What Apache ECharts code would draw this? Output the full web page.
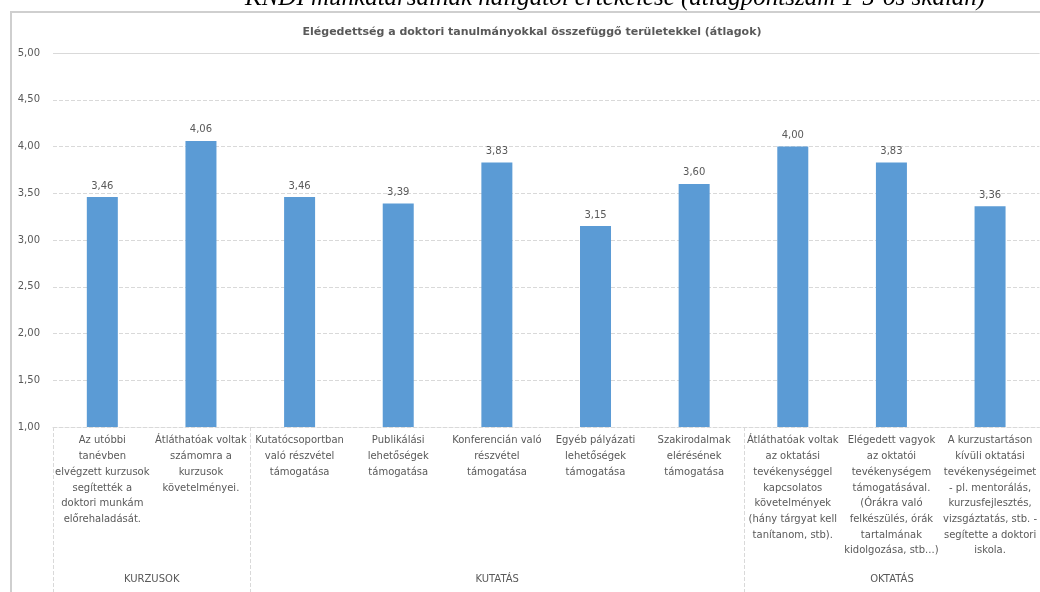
<!DOCTYPE html>
<html>
<head>
<meta charset="utf-8">
<script src="https://cdn.jsdelivr.net/npm/echarts@6/dist/echarts.min.js"></script>
<style>
html,body{margin:0;padding:0;background:#fff;}
#c{width:1040px;height:592px;}
</style>
</head>
<body>
<div id="c"></div>
<script>
const headerText = 'KNDI munkatársainak hallgatói értékelése (átlagpontszám 1-5-ös skálán)';
const titleText = 'Elégedettség a doktori tanulmányokkal összefüggő területekkel (átlagok)';
const categories = [
  'Az utóbbi\ntanévben\nelvégzett kurzusok\nsegítették a\ndoktori munkám\nelőrehaladását.',
  'Átláthatóak voltak\nszámomra a\nkurzusok\nkövetelményei.',
  'Kutatócsoportban\nvaló részvétel\ntámogatása',
  'Publikálási\nlehetőségek\ntámogatása',
  'Konferencián való\nrészvétel\ntámogatása',
  'Egyéb pályázati\nlehetőségek\ntámogatása',
  'Szakirodalmak\nelérésének\ntámogatása',
  'Átláthatóak voltak\naz oktatási\ntevékenységgel\nkapcsolatos\nkövetelmények\n(hány tárgyat kell\ntanítanom, stb).',
  'Elégedett vagyok\naz oktatói\ntevékenységem\ntámogatásával.\n(Órákra való\nfelkészülés, órák\ntartalmának\nkidolgozása, stb...)',
  'A kurzustartáson\nkívüli oktatási\ntevékenységeimet\n- pl. mentorálás,\nkurzusfejlesztés,\nvizsgáztatás, stb. -\nsegítette a doktori\niskola.'
];
const values = [3.46, 4.06, 3.46, 3.39, 3.83, 3.15, 3.60, 4.00, 3.83, 3.36];
const groups = ['KURZUSOK', 'KUTATÁS', 'OKTATÁS'];
const groupSizes = [2, 5, 3];
const yTicks = {min: 1, max: 5, interval: 0.5};

// half-category axis for the group row
const halfKeys = [];
for (let i = 0; i <= categories.length * 2; i++) halfKeys.push('h' + i);
const groupLabelAt = {};
const boundaryAt = new Set();
let s = 0;
groups.forEach((g, k) => {
  groupLabelAt[2 * s + groupSizes[k]] = g;
  boundaryAt.add(2 * s);
  s += groupSizes[k];
});
boundaryAt.add(2 * s);

const comma = v => Number(v).toFixed(2).replace('.', ',');
const FONT = 'DejaVu Sans';
const TXT = '#595959';
const GRIDC = '#d9d9d9';

const chart = echarts.init(document.getElementById('c'), null, {renderer: 'canvas'});
chart.setOption({
  animation: false,
  backgroundColor: '#fff',
  textStyle: {fontFamily: FONT},
  title: {
    text: titleText,
    left: 527, top: 22, textAlign: 'center',
    textStyle: {fontFamily: FONT, fontSize: 11, fontWeight: 'bold', color: TXT}
  },
  graphic: [
    {type: 'text', left: 245, top: -14, silent: true,
     style: {text: headerText, font: 'italic 25px "Liberation Serif"', fill: '#000'}},
    {type: 'polyline', silent: true,
     shape: {points: [[11, 592], [11, 12], [1040, 12]]},
     style: {stroke: '#cfcfcf', lineWidth: 2, fill: null}}
  ],
  grid: [
    {left: 53, width: 987.5, top: 53, height: 374},
    {left: 53, width: 987.5, top: 427, height: 165}
  ],
  xAxis: [
    {
      type: 'category', gridIndex: 0, data: categories,
      axisTick: {show: false},
      axisLine: {show: true, lineStyle: {color: GRIDC, type: 'dashed', width: 1}},
      axisLabel: {interval: 0, color: TXT, fontSize: 10, lineHeight: 15.7, margin: 6, fontFamily: FONT}
    },
    {
      type: 'category', gridIndex: 1, data: halfKeys, boundaryGap: false,
      axisTick: {show: false}, axisLine: {show: false},
      axisLabel: {
        inside: true, margin: 8, color: TXT, fontSize: 10, fontFamily: FONT,
        interval: (i) => groupLabelAt[i] !== undefined,
        formatter: (v, i) => groupLabelAt[i] || ''
      },
      splitLine: {show: true, interval: (i) => boundaryAt.has(i),
        lineStyle: {color: GRIDC, type: 'dashed', width: 1}}
    }
  ],
  yAxis: [
    {
      type: 'value', gridIndex: 0, min: yTicks.min, max: yTicks.max, interval: yTicks.interval,
      axisLine: {show: false}, axisTick: {show: false},
      axisLabel: {formatter: comma, color: TXT, fontSize: 10, margin: 13, fontFamily: FONT},
      splitLine: {lineStyle: {color: GRIDC, type: 'dashed', width: 1}}
    },
    {type: 'value', gridIndex: 1, show: false, min: 0, max: 1}
  ],
  series: [
    {
      type: 'bar', xAxisIndex: 0, yAxisIndex: 0, data: values, barWidth: 31,
      itemStyle: {color: '#5b9bd5'},
      label: {show: true, position: 'top', distance: 6, formatter: p => comma(p.value),
        color: TXT, fontSize: 10, fontFamily: FONT},
      markLine: {
        silent: true, symbol: 'none', animation: false,
        label: {show: false},
        lineStyle: {color: GRIDC, type: 'solid', width: 1},
        data: [{yAxis: yTicks.max}]
      }
    }
  ]
});
</script>
</body>
</html>
